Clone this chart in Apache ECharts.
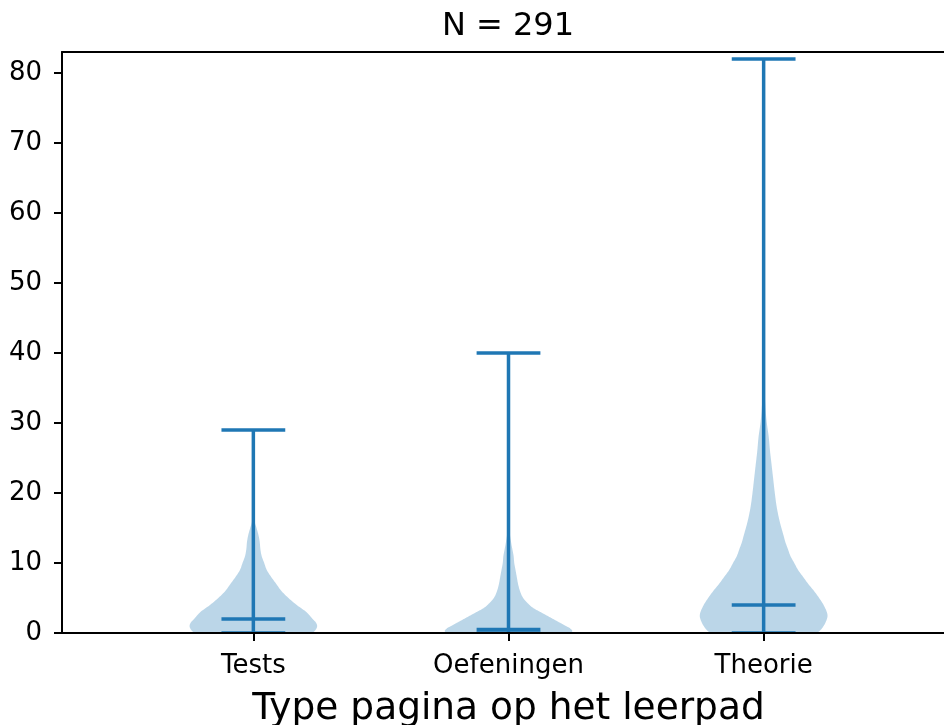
<!DOCTYPE html>
<html>
<head>
<meta charset="utf-8">
<script src="https://cdn.jsdelivr.net/npm/echarts@6/dist/echarts.min.js"></script>
<style>
  html, body { margin: 0; padding: 0; background: #fff; }
  #chart { width: 944px; height: 725px; }
</style>
</head>
<body>
<div id="chart"></div>
<script>
// Categories on the x axis and their positions
const categories = ['Tests', 'Oefeningen', 'Theorie'];
const positions = [1, 2, 3];

// Summary statistics per category
const minValues = [0, 0, 0];
const maxValues = [29, 40, 82];
const medianValues = [2, 0.5, 4];

// Density profiles: levels (y values) and relative half-widths (1 = widest)
const testsLevels = [0, 0.5, 1, 1.5, 2, 3, 4, 5, 6, 7, 8, 9, 10, 11, 12, 13, 14, 15, 16, 18, 22, 29];
const testsWidths = [0.93, 0.98, 1.0, 0.98, 0.93, 0.83, 0.68, 0.55, 0.44, 0.36, 0.28, 0.21, 0.17, 0.13, 0.11, 0.10, 0.08, 0.05, 0.02, 0.01, 0.005, 0];

const oefLevels = [0, 0.3, 0.7, 1, 1.5, 2, 2.5, 3, 3.5, 4, 5, 6, 7, 8, 9, 10, 11, 12, 13, 15, 20, 40];
const oefWidths = [0.97, 1.0, 0.96, 0.9, 0.8, 0.7, 0.6, 0.5, 0.4, 0.33, 0.23, 0.18, 0.15, 0.13, 0.11, 0.09, 0.08, 0.06, 0.04, 0.015, 0.005, 0];

const theorieLevels = [0, 0.5, 1, 1.5, 2.3, 3, 4, 5, 6, 7, 8, 9, 10, 11, 12, 13, 14, 16, 18, 20, 22, 24, 26, 28, 30, 32, 35, 40, 50, 82];
const theorieWidths = [0.84, 0.9, 0.94, 0.97, 1.0, 0.99, 0.94, 0.87, 0.79, 0.7, 0.62, 0.54, 0.48, 0.42, 0.38, 0.34, 0.31, 0.25, 0.205, 0.175, 0.15, 0.125, 0.1, 0.08, 0.05, 0.03, 0.015, 0.006, 0.003, 0];

const yTicks = [0, 10, 20, 30, 40, 50, 60, 70, 80];
const titleText = 'N = 291';
const xAxisTitle = 'Type pagina op het leerpad';

const profiles = [
  { levels: testsLevels, widths: testsWidths },
  { levels: oefLevels, widths: oefWidths },
  { levels: theorieLevels, widths: theorieWidths }
];

const blue = '#1f77b4';
const fontFamily = 'DejaVu Sans';
const halfWidth = 0.25;   // maximum half-width of a violin, in x units
const capHalf = 0.125;    // half-length of the cap / median bars

// Catmull-Rom smoothing of an open polyline (pixel space)
function smoothLine(pts, steps) {
  const out = [];
  const n = pts.length;
  for (let i = 0; i < n - 1; i++) {
    const p0 = pts[Math.max(i - 1, 0)], p1 = pts[i], p2 = pts[i + 1], p3 = pts[Math.min(i + 2, n - 1)];
    for (let s = 0; s < steps; s++) {
      const t = s / steps, t2 = t * t, t3 = t2 * t;
      const f = (a, b, c, d) => 0.5 * ((2 * b) + (-a + c) * t + (2 * a - 5 * b + 4 * c - d) * t2 + (-a + 3 * b - 3 * c + d) * t3);
      out.push([f(p0[0], p1[0], p2[0], p3[0]), f(p0[1], p1[1], p2[1], p3[1])]);
    }
  }
  out.push(pts[n - 1]);
  return out;
}

const chart = echarts.init(document.getElementById('chart'), null, { renderer: 'canvas' });

const axisLineStyle = { color: '#000', width: 2 };

chart.setOption({
  animation: false,
  backgroundColor: '#fff',
  grid: {
    left: 62, top: 52, width: 893, height: 581,
    containLabel: false, outerBoundsMode: 'none'
  },
  graphic: [{
    type: 'text',
    x: 508, y: 11,
    style: {
      text: titleText, fill: '#000',
      font: '32px "' + fontFamily + '"',
      textAlign: 'center', textVerticalAlign: 'top'
    }
  }],
  xAxis: [{
    type: 'value', min: 0.25, max: 3.75, z: 10,
    splitLine: { show: false },
    axisLine: { show: true, onZero: false, lineStyle: axisLineStyle },
    axisTick: { show: true, customValues: positions, length: 8, lineStyle: { color: '#000', width: 2 } },
    axisLabel: {
      customValues: positions, margin: 20,
      formatter: v => categories[Math.round(v) - 1],
      color: '#000', fontSize: 26, fontFamily: fontFamily
    },
    name: xAxisTitle, nameLocation: 'middle', nameGap: 57,
    nameTextStyle: { color: '#000', fontSize: 37.5, fontFamily: fontFamily }
  }, {
    // top frame line
    type: 'value', position: 'top', min: 0.25, max: 3.75, z: 10,
    splitLine: { show: false },
    axisLine: { show: true, onZero: false, lineStyle: axisLineStyle },
    axisTick: { show: false },
    axisLabel: { show: false }
  }],
  yAxis: {
    type: 'value', min: 0, max: 83, z: 10,
    splitLine: { show: false },
    axisLine: { show: true, lineStyle: axisLineStyle },
    axisTick: { show: true, customValues: yTicks, length: 8, lineStyle: { color: '#000', width: 2 } },
    axisLabel: {
      customValues: yTicks, margin: 20,
      color: '#000', fontSize: 26, fontFamily: fontFamily
    }
  },
  series: [
    {
      // violin bodies
      type: 'custom',
      clip: true,
      data: positions.map((p, i) => [p, i]),
      renderItem: function (params, api) {
        const pos = api.value(0);
        const prof = profiles[api.value(1)];
        const right = [], left = [];
        for (let k = 0; k < prof.levels.length; k++) {
          right.push(api.coord([pos + prof.widths[k] * halfWidth, prof.levels[k]]));
          left.push(api.coord([pos - prof.widths[k] * halfWidth, prof.levels[k]]));
        }
        const pts = smoothLine(right, 10).concat(smoothLine(left, 10).reverse());
        return {
          type: 'polygon',
          shape: { points: pts },
          style: { fill: blue, opacity: 0.3 }
        };
      }
    },
    {
      // extrema bars, connecting line and medians
      type: 'custom',
      clip: true,
      data: positions.map((p, i) => [p, minValues[i], maxValues[i], medianValues[i]]),
      renderItem: function (params, api) {
        const pos = api.value(0);
        const lo = api.value(1), hi = api.value(2), med = api.value(3);
        const seg = (x1, y1, x2, y2) => {
          const a = api.coord([x1, y1]);
          const b = api.coord([x2, y2]);
          return {
            type: 'line',
            shape: { x1: a[0], y1: a[1], x2: b[0], y2: b[1] },
            style: { stroke: blue, lineWidth: 3.5 }
          };
        };
        return {
          type: 'group',
          children: [
            seg(pos, lo, pos, hi),
            seg(pos - capHalf, hi, pos + capHalf, hi),
            seg(pos - capHalf, lo, pos + capHalf, lo),
            seg(pos - capHalf, med, pos + capHalf, med)
          ]
        };
      }
    }
  ]
});
</script>
</body>
</html>
